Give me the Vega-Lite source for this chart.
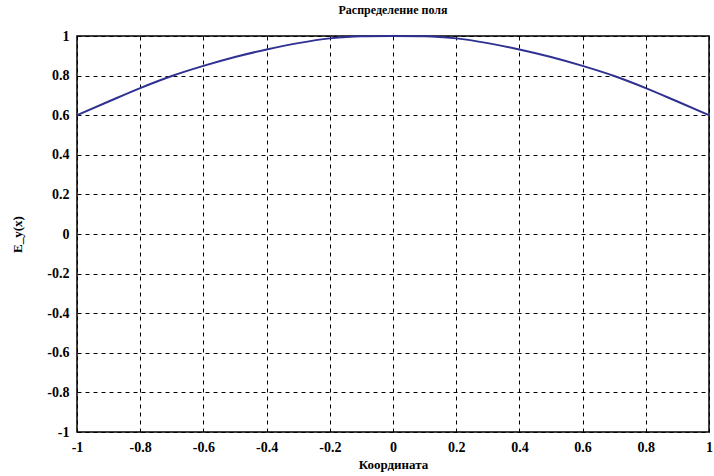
{
  "$schema": "https://vega.github.io/schema/vega-lite/v6.json",
  "width": 632,
  "height": 396,
  "autosize": {"type": "none"},
  "padding": {"left": 77, "top": 36, "right": 5, "bottom": 44},
  "background": "white",
  "title": {"text": "Распределение поля", "font": "Liberation Serif", "fontSize": 12, "fontWeight": "bold", "color": "black", "offset": 12, "anchor": "middle"},
  "config": {
    "view": {"stroke": "black", "strokeWidth": 1.5},
    "axis": {
      "grid": true, "gridColor": "black", "gridDash": [4, 4], "gridWidth": 1, "gridOpacity": 1,
      "domain": false, "ticks": false,
      "labelFont": "Liberation Serif", "labelFontSize": 14, "labelFontWeight": "bold", "labelColor": "black",
      "titleFont": "Liberation Serif", "titleFontSize": 13, "titleFontWeight": "bold", "titleColor": "black"
    }
  },
  "data": {"values": [
    {"x": -1.0, "y": 0.600}, {"x": -0.9, "y": 0.669}, {"x": -0.8, "y": 0.737},
    {"x": -0.7, "y": 0.798}, {"x": -0.6, "y": 0.849}, {"x": -0.5, "y": 0.894},
    {"x": -0.4, "y": 0.932}, {"x": -0.3, "y": 0.964}, {"x": -0.2, "y": 0.988},
    {"x": -0.1, "y": 0.999}, {"x": 0.0, "y": 1.0}, {"x": 0.1, "y": 0.999},
    {"x": 0.2, "y": 0.988}, {"x": 0.3, "y": 0.964}, {"x": 0.4, "y": 0.932},
    {"x": 0.5, "y": 0.894}, {"x": 0.6, "y": 0.849}, {"x": 0.7, "y": 0.798},
    {"x": 0.8, "y": 0.737}, {"x": 0.9, "y": 0.669}, {"x": 1.0, "y": 0.600}
  ]},
  "mark": {"type": "line", "color": "#2e3192", "strokeWidth": 2, "interpolate": "monotone"},
  "encoding": {
    "x": {"field": "x", "type": "quantitative", "scale": {"domain": [-1, 1], "nice": false},
      "axis": {"title": "Координата", "values": [-1, -0.8, -0.6, -0.4, -0.2, 0, 0.2, 0.4, 0.6, 0.8, 1], "labelExpr": "replace(format(datum.value, '~g'), '−', '-')", "labelPadding": 8, "titlePadding": 4, "labelFlush": false}},
    "y": {"field": "y", "type": "quantitative", "scale": {"domain": [-1, 1], "nice": false},
      "axis": {"title": "E_y(x)", "values": [-1, -0.8, -0.6, -0.4, -0.2, 0, 0.2, 0.4, 0.6, 0.8, 1], "labelExpr": "replace(format(datum.value, '~g'), '−', '-')", "labelPadding": 8, "titlePadding": 22, "labelFlush": false}}
  }
}
